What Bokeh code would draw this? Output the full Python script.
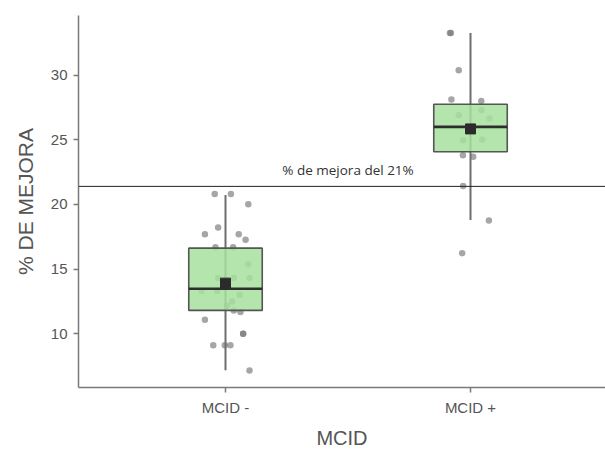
from bokeh.plotting import figure
from bokeh.models import FixedTicker, Span, Label, Range1d
from bokeh.embed import file_html
from bokeh.resources import INLINE

categories = ["MCID -", "MCID +"]
cat_pos = [1, 2]

# box statistics
q1 = [11.80, 24.08]
median = [13.47, 26.01]
q3 = [16.62, 27.76]
whisk_lo = [7.17, 18.80]
whisk_hi = [20.73, 33.27]
means = [13.91, 25.85]

# individual points (values) and their horizontal jitter
g1_vals = [20.81, 20.81, 20.01, 18.21, 17.70, 17.70, 17.26, 16.69, 16.69, 15.38,
           14.30, 14.30, 14.30, 13.32, 13.32, 13.01, 12.49, 12.16, 11.80, 11.68,
           11.08, 10.00, 10.00, 9.10, 9.10, 9.10, 7.14]
g1_jit = [-0.044, 0.022, 0.093, -0.030, -0.084, 0.054, 0.082, -0.041, 0.031, 0.093,
          0.098, -0.030, 0.034, -0.098, -0.034, 0.058, 0.027, 0.007, 0.034, 0.061,
          -0.084, 0.072, 0.072, -0.050, -0.003, 0.020, 0.098]
g2_vals = [33.27, 33.27, 30.39, 28.12, 28.02, 27.30, 26.91, 26.66, 24.98, 25.03,
           23.82, 23.69, 21.43, 18.75, 16.23]
g2_jit = [-0.084, -0.080, -0.048, -0.078, 0.044, 0.045, -0.048, 0.078, -0.030, 0.048,
          -0.031, 0.011, -0.030, 0.075, -0.034]

threshold = 21.4
threshold_label = "% de mejora del 21%"
y_ticks = [10, 15, 20, 25, 30]

p = figure(width=605, height=451, output_backend="svg", toolbar_location=None,
           x_range=Range1d(0.4, 2.551), y_range=Range1d(5.83, 34.63),
           min_border_left=78, min_border_right=0, min_border_top=15, min_border_bottom=10)
p.background_fill_color = "white"
p.border_fill_color = "white"
p.outline_line_color = None
p.xgrid.visible = False
p.ygrid.visible = False

# points
xs = [cat_pos[0] + j for j in g1_jit] + [cat_pos[1] + j for j in g2_jit]
ys = g1_vals + g2_vals
p.scatter(xs, ys, size=6.5, fill_color="#777777", line_color=None, fill_alpha=0.65)

# whiskers
p.segment(x0=cat_pos, y0=whisk_lo, x1=cat_pos, y1=whisk_hi, line_color="#6e6e6e", line_width=2)

# boxes
p.vbar(x=cat_pos, width=0.3, bottom=q1, top=q3, fill_color="#a6e09f", fill_alpha=0.85,
       line_color="#555555", line_width=1.6)

# medians
p.segment(x0=[c - 0.15 for c in cat_pos], y0=median, x1=[c + 0.15 for c in cat_pos], y1=median,
          line_color="#2e2e2e", line_width=2.6)

# means
p.scatter(cat_pos, means, marker="square", size=10, fill_color="#2b2b2b", line_color="#2b2b2b")

# threshold line
p.add_layout(Span(location=threshold, dimension="width", line_color="#222222", line_width=1))
p.add_layout(Label(x=1.5, y=threshold, text=threshold_label, text_align="center",
                   y_offset=7, text_font="Open Sans", text_font_size="13.5px", text_color="#333333"))

# axes
for ax in (p.xaxis[0], p.yaxis[0]):
    ax.axis_line_color = "#7a7a7a"
    ax.axis_line_width = 1.5
    ax.major_tick_line_color = "#7a7a7a"
    ax.major_tick_line_width = 1.5
    ax.major_tick_out = 5
    ax.major_tick_in = 0
    ax.minor_tick_line_color = None
    ax.major_label_text_font = "Liberation Sans"
    ax.major_label_text_font_size = "15px"
    ax.major_label_text_color = "#555555"
    ax.axis_label_text_font = "Liberation Sans"
    ax.axis_label_text_font_style = "normal"
    ax.axis_label_text_color = "#555555"

p.xaxis.ticker = FixedTicker(ticks=cat_pos)
p.xaxis.major_label_overrides = {c: l for c, l in zip(cat_pos, categories)}
p.xaxis.axis_label = "MCID"
p.xaxis.axis_label_text_font_size = "20px"
p.xaxis.major_label_standoff = 6
p.xaxis.axis_label_standoff = 8

p.yaxis.ticker = FixedTicker(ticks=y_ticks)
p.yaxis.axis_label = "% DE MEJORA"
p.yaxis.axis_label_text_font_size = "21px"
p.yaxis.major_label_standoff = 6
p.yaxis.axis_label_standoff = 11

open("out.html", "w").write(file_html(p, INLINE))
